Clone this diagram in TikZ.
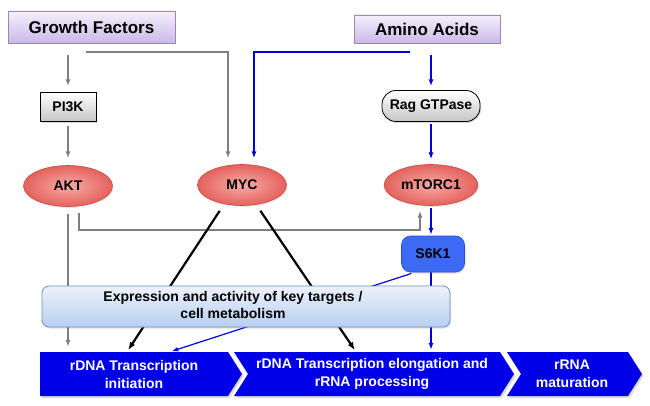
\documentclass[tikz,border=0pt]{standalone}
\usepackage{fontspec}
\setmainfont{Liberation Sans}
\usepackage{tikz}
\usetikzlibrary{arrows.meta,positioning,shapes.geometric,shadows,backgrounds}
\definecolor{lilasH}{HTML}{F5F0FC}
\definecolor{lilasC}{HTML}{CBB8E8}
\definecolor{lilasB}{HTML}{9A85BE}
\definecolor{ovalH}{HTML}{F8AAA6}
\definecolor{ovalC}{HTML}{E4625C}
\definecolor{ovalB}{HTML}{C24E48}
\definecolor{bleuS}{HTML}{3D6AF5}
\definecolor{bleuSB}{HTML}{2A4DCB}
\definecolor{cielH}{HTML}{ECF2FB}
\definecolor{cielC}{HTML}{B7CFF0}
\definecolor{cielB}{HTML}{6F8FC2}
\definecolor{chevB}{HTML}{0000E8}
\definecolor{grisL}{HTML}{808080}
\definecolor{bleuL}{HTML}{0000DD}
\tikzset{
  entree/.style={rectangle, draw=lilasB, line width=0.8pt, top color=lilasH, bottom color=lilasC,
                 font=\bfseries\fontsize{17}{19}\selectfont,
                 drop shadow={opacity=0.25, shadow xshift=1pt, shadow yshift=-1.5pt}},
  kinase/.style={ellipse, draw=ovalB, line width=0.6pt, inner color=ovalH, outer color=ovalC,
                 minimum width=89pt, minimum height=41pt, font=\bfseries\fontsize{14}{16}\selectfont,
                 drop shadow={opacity=0.2, shadow xshift=1pt, shadow yshift=-1.5pt}},
  grisbox/.style={draw=black, line width=0.8pt, top color=white, bottom color=gray!45,
                  font=\bfseries\fontsize{14}{16}\selectfont,
                  drop shadow={opacity=0.3, shadow xshift=1pt, shadow yshift=-1.5pt}},
  chev/.style={fill=chevB, drop shadow={opacity=0.3, shadow xshift=1.5pt, shadow yshift=-2pt}},
  chevtxt/.style={text=white, align=center, minimum height=44pt, inner sep=0pt,
                  font=\bfseries\fontsize{14}{18}\selectfont},
  arrg/.style={-{Latex[length=2.4mm]}, line width=1.8pt, draw=grisL},
  arrb/.style={-{Latex[length=2.4mm]}, line width=1.8pt, draw=bleuL},
  arrk/.style={-{Latex[length=2.8mm]}, line width=2.2pt, draw=black},
}
\begin{document}
\begin{tikzpicture}[x=1pt,y=-1pt]
  \path[use as bounding box] (0,0) rectangle (650,406);
  % inputs
  \node[entree, minimum width=167pt, minimum height=32pt] (gf) at (91.5,27) {Growth Factors};
  \node[entree, minimum width=146pt, minimum height=28pt] (aa) at (427,29) {Amino Acids};
  % signalling
  \node[grisbox, minimum width=56pt, minimum height=29pt] (pik) at (68,107) {PI3K};
  \node[grisbox, rounded corners=14pt, minimum width=98pt, minimum height=31pt] (rag) at (431,106) {Rag GTPase};
  \node[kinase] (akt) at (68,186) {AKT};
  \node[kinase] (myc) at (242,185) {MYC};
  \node[kinase, minimum width=91pt] (mtor) at (431,185) {mTORC1};
  \node[rectangle, rounded corners=9pt, draw=bleuSB, fill=bleuS, line width=0.6pt,
        minimum width=63pt, minimum height=36pt, font=\bfseries\fontsize{14}{16}\selectfont,
        drop shadow={opacity=0.25, shadow xshift=1pt, shadow yshift=-1.5pt}] (s6k) at (433,254) {S6K1};
  \node[rectangle, rounded corners=7pt, draw=cielB, line width=0.8pt, top color=cielH, bottom color=cielC,
        minimum width=408pt, minimum height=41pt, inner sep=0pt,
        font=\bfseries\fontsize{14}{17}\selectfont,
        drop shadow={opacity=0.25, shadow xshift=1pt, shadow yshift=-1.5pt}] (expr) at (246,306.5)
    {\begin{tabular}{@{}c@{}}Expression and activity of key targets /\\ cell metabolism\end{tabular}\makebox[26pt]{}};
  % steps
  \fill[chev] (40,352) -- (228,352) -- (242,374) -- (228,396) -- (40,396) -- cycle;
  \fill[chev] (234,352) -- (500,352) -- (514,374) -- (500,396) -- (234,396) -- (248,374) -- cycle;
  \fill[chev] (507,352) -- (628,352) -- (642,374) -- (628,396) -- (507,396) -- (521,374) -- cycle;
  \node[chevtxt] (init) at (134,374) {rDNA Transcription\\initiation};
  \node[chevtxt] (elong) at (372,374) {rDNA Transcription elongation and\\rRNA processing};
  \node[chevtxt] (mat) at (572,374) {rRNA\\maturation};
  % connectors
  \begin{pgfonlayer}{background}
    \draw[arrg, shorten <=12pt, shorten >=6pt] (gf.south -| pik) -- (pik.north);
    \draw[arrg, shorten >=6pt] ([xshift=-5.5pt,yshift=-9pt]gf.south) -| ([xshift=-14pt]myc.north);
    \draw[arrb, shorten >=6pt] ([xshift=-17pt,yshift=-9pt]aa.south) -| ([xshift=12pt]myc.north);
    \draw[arrb, shorten <=12pt, shorten >=4pt] (aa.south -| rag) -- (rag.north);
    \draw[arrg, shorten <=4pt, shorten >=7pt] (pik.south) -- (akt.north);
    \draw[arrb, shorten <=2pt, shorten >=5pt] (rag.south) -- (mtor.north);
    \draw[arrg, shorten <=6pt, shorten >=5pt] ([xshift=11pt]akt.south) -- ++(0,23) -| ([xshift=-11pt]mtor.south);
    \draw[arrg, shorten <=7pt, shorten >=5pt] (akt.south) -- (akt |- init.north);
    \draw[arrk, shorten <=6pt, shorten >=2pt] ([xshift=-19pt]myc.south) -- ([xshift=-7pt]init.north);
    \draw[arrk, shorten <=6pt, shorten >=2pt] ([xshift=15pt]myc.south) -- ([xshift=-16pt]elong.north);
    \draw[arrb, shorten <=2pt, shorten >=1pt] (mtor.south) -- (s6k.north -| mtor);
    \draw[arrb, shorten >=2pt] (s6k.south -| mtor) -- (mtor |- elong.north);
    \draw[-{Latex[length=2.2mm]}, line width=1.2pt, draw=bleuL, shorten <=4pt, shorten >=2pt]
      ([xshift=-18pt]s6k.south) -- ([xshift=36pt]init.north);
  \end{pgfonlayer}
\end{tikzpicture}
\end{document}
